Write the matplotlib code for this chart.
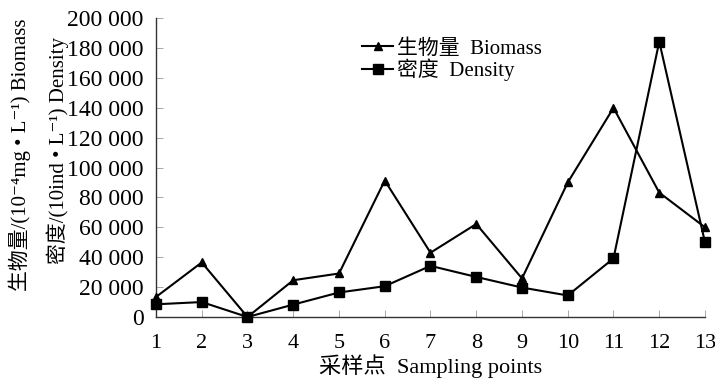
import matplotlib
matplotlib.use("Agg")
import matplotlib.pyplot as plt
from matplotlib.ticker import FuncFormatter, MultipleLocator

# data
points = list(range(1, 14))
biomass = [13400, 36500, 0, 24600, 29100, 91300, 43000, 62200, 25800, 90000, 139900, 83200, 60000]
density = [8500, 10000, 0, 8300, 16400, 20600, 34200, 26800, 19700, 14400, 39200, 184200, 49900]

plt.rcParams['font.family'] = ['Liberation Serif', 'Noto Sans CJK SC', 'DejaVu Serif']

fig = plt.figure(figsize=(7.15, 3.78), dpi=100)
ax = fig.add_axes([156 / 715, 61 / 378, 549 / 715, 299 / 378])

ax.plot(points, biomass, color='black', lw=1.5, marker='^', ms=6,
        label='生物量  Biomass', clip_on=False, zorder=3)
ax.plot(points, density, color='black', lw=1.5, marker='s', ms=7,
        label='密度  Density', clip_on=False, zorder=3)

ax.set_xlim(1, 13)
ax.set_ylim(0, 200000)
ax.xaxis.set_major_locator(MultipleLocator(1))
ax.yaxis.set_major_locator(MultipleLocator(20000))
ax.yaxis.set_major_formatter(FuncFormatter(lambda v, p: f"{v:,.0f}".replace(',', ' ')))

for s in ['top', 'right']:
    ax.spines[s].set_visible(False)
for s in ['left', 'bottom']:
    ax.spines[s].set_linewidth(1.0)
    ax.spines[s].set_color('#333333')
ax.tick_params(direction='in', length=5, width=0.6, colors='#999999',
               labelcolor='black', labelsize=16)
ax.tick_params(axis='x', pad=12)
ax.tick_params(axis='y', pad=9, labelsize=17)

ax.set_xlabel('采样点  Sampling points', fontsize=16, labelpad=1)

fig.text(20 / 715, 1 - 155 / 378, '生物量/(10⁻⁴mg • L⁻¹) Biomass',
         rotation=90, ha='center', va='center', fontsize=15)
fig.text(58 / 715, 1 - 150 / 378, '密度/(10ind • L⁻¹) Density',
         rotation=90, ha='center', va='center', fontsize=15)

ax.legend(loc='upper left', bbox_to_anchor=(206 / 549, 1 - 21 / 299),
          frameon=False, fontsize=15, handlelength=1.5, handletextpad=0.2,
          labelspacing=0.0, borderaxespad=0, borderpad=0)

fig.savefig('out.png', dpi=100)
